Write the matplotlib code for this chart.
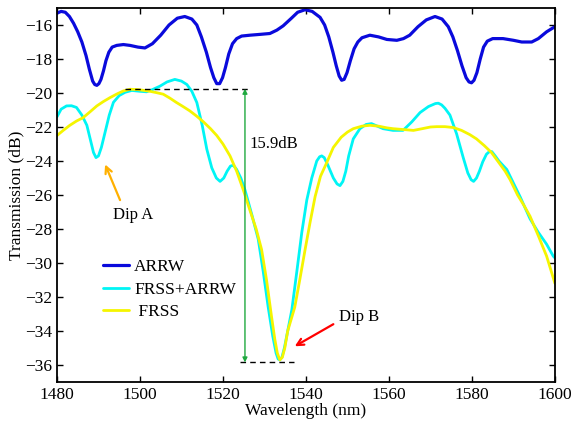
import numpy as np
import matplotlib
matplotlib.use('Agg')
import matplotlib.pyplot as plt


# Data (wavelength in nm, transmission in dB)
# ------------------------------------------------------------------
arrw_wl = [1480, 1481, 1482, 1483, 1484, 1485, 1486, 1487, 1487.8, 1488.6,
           1489.1, 1489.6, 1490.1, 1490.6, 1491.2, 1491.8, 1492.5, 1493.3,
           1494.4, 1496, 1497.6, 1499.5, 1501.2, 1503, 1505, 1507, 1509, 1510.8,
           1512.5, 1513.7, 1514.8, 1516, 1517, 1517.8, 1518.5, 1519.2, 1519.9,
           1520.6, 1521.4, 1522.3, 1523.3, 1524.5, 1526.5,
           1529, 1531.3, 1533, 1534.5, 1536.5, 1538, 1539.8, 1541.5, 1543.4, 1544.5,
           1545.5, 1546.5, 1547.3, 1548, 1548.6, 1549.2, 1549.9, 1550.7, 1551.6,
           1552.5, 1553.5, 1555.4, 1557.5, 1559.5,
           1561.9, 1563.5, 1565, 1567, 1569, 1571.1, 1572.8, 1574.3, 1575.4, 1576.5,
           1577.6, 1578.6, 1579.3, 1579.9, 1580.5, 1581.2, 1582, 1582.8, 1583.7,
           1585, 1587.5, 1590, 1592, 1594.4, 1596, 1598, 1600]
arrw_db = [-15.3, -15.2, -15.25, -15.5, -15.9, -16.4, -17.0, -17.8, -18.6, -19.3,
           -19.5, -19.55, -19.45, -19.2, -18.7, -18.1, -17.6, -17.3,
           -17.2, -17.15, -17.2, -17.3, -17.35, -17.1, -16.6, -16.0, -15.6, -15.5,
           -15.65, -16.0, -16.7, -17.6, -18.5, -19.1, -19.45, -19.45, -19.1,
           -18.5, -17.7, -17.1, -16.8, -16.65, -16.6,
           -16.55, -16.5, -16.3, -16.05, -15.6, -15.25, -15.1, -15.2, -15.55, -16.0,
           -16.7, -17.6, -18.4, -19.0, -19.25, -19.2, -18.8, -18.1, -17.4,
           -17.0, -16.75, -16.6, -16.7, -16.85,
           -16.9, -16.8, -16.6, -16.1, -15.7, -15.5, -15.65, -16.1, -16.7, -17.5,
           -18.4, -19.1, -19.35, -19.4, -19.25, -18.8, -18.0, -17.3, -16.95,
           -16.8, -16.8, -16.9, -17.0, -17.0, -16.8, -16.4, -16.1]

both_wl = [1480, 1481, 1482.3, 1483.5, 1484.7, 1486, 1487.2, 1488.1, 1488.8, 1489.4,
           1490, 1490.7, 1491.6, 1492.6, 1493.6, 1495, 1496.4, 1498, 1500, 1501.6,
           1503, 1504.8, 1506.5, 1508.4, 1510, 1511.3, 1512.5, 1513.7, 1515, 1516.1,
           1517.3, 1518.4, 1519.3, 1520.2, 1521, 1521.8, 1522.5, 1523.3, 1524.3,
           1525.3, 1527, 1528.5, 1529.7, 1530.9, 1532, 1532.8, 1533.3, 1533.7,
           1534.2, 1534.8, 1535.6, 1536.6, 1537.8, 1539, 1540.2, 1541.4,
           1542.6, 1543.3, 1543.8, 1544.4, 1545.2, 1546.6, 1547.5, 1548.2, 1548.9,
           1549.6, 1550.3, 1551.4, 1553, 1554.5,
           1555.8, 1557.2, 1558.6, 1561, 1563.4, 1565.5, 1567.5, 1569.5, 1571.2,
           1571.9, 1572.7, 1573.5, 1574.7, 1576.3, 1577.9, 1579, 1579.8, 1580.4,
           1581.1, 1581.8, 1582.6, 1583.5, 1584.2, 1584.8, 1585.6, 1586.5,
           1588.4, 1590, 1591.6, 1594, 1596, 1598, 1599.6, 1600]
both_db = [-21.4, -20.95, -20.76, -20.75, -20.85, -21.3, -21.9, -22.8, -23.5, -23.8,
           -23.7, -23.2, -22.3, -21.3, -20.55, -20.15, -19.96, -19.85, -19.9, -19.93,
           -19.8, -19.6, -19.35, -19.2, -19.3, -19.5, -19.9, -20.56, -21.9, -23.3,
           -24.4, -25.0, -25.2, -25.0, -24.6, -24.3, -24.25, -24.5, -25.0,
           -25.7, -27.2, -28.6, -30.5, -32.6, -34.3, -35.3, -35.65, -35.7,
           -35.55, -35.0, -34.0, -32.75, -30.5, -28.2, -26.3, -25.0,
           -24.0, -23.75, -23.7, -23.8, -24.2, -25.0, -25.35, -25.45, -25.2,
           -24.6, -23.7, -22.7, -22.1, -21.85,
           -21.8, -21.95, -22.1, -22.2, -22.2, -21.7, -21.15, -20.8, -20.62,
           -20.6, -20.7, -20.9, -21.3, -22.4, -23.8, -24.7, -25.1, -25.2,
           -25.0, -24.6, -24.05, -23.6, -23.45, -23.45, -23.7, -24.0,
           -24.5, -25.3, -26.1, -27.4, -28.2, -28.9, -29.6, -29.7]

frss_wl = [1480, 1481.5, 1483.1, 1484.7, 1486.3, 1488, 1489.6, 1491.2, 1492.8, 1494.5,
           1496, 1497.6, 1499.5, 1501, 1502.4, 1504, 1505.6, 1507.2, 1508.8, 1510.4,
           1512, 1513.6, 1515.3, 1517, 1518.5, 1520, 1521.7, 1523.3, 1524.9, 1526.5,
           1528, 1529.3, 1530.5, 1531.7, 1532.5, 1533.1, 1533.7, 1534.3, 1534.9,
           1535.6, 1537.3, 1538.5,
           1539.8, 1541, 1542.2, 1543.5, 1545, 1546.6, 1548.5, 1550, 1551.4, 1553.5,
           1555.4, 1557.5, 1559.5, 1561, 1563.5, 1565.9, 1568, 1570, 1571.5, 1573.5,
           1575.5, 1577.5, 1579.5, 1581.1, 1583, 1584.7, 1586.5, 1588, 1589.2, 1591,
           1592.5, 1594, 1596, 1598, 1599, 1600]
frss_db = [-22.5, -22.2, -21.9, -21.65, -21.45, -21.1, -20.76, -20.5, -20.27, -20.05,
           -19.88, -19.78, -19.8, -19.85, -19.9, -19.98, -20.07, -20.3, -20.56, -20.8,
           -21.05, -21.35, -21.7, -22.1, -22.5, -23.0, -23.7, -24.6, -25.7, -26.9,
           -28.0, -29.2, -31.0, -33.15, -34.5, -35.3, -35.7, -35.55, -35.0,
           -34.0, -32.6, -31.0,
           -29.2, -27.6, -26.1, -24.9, -24.1, -23.2, -22.6, -22.3, -22.1, -21.95,
           -21.9, -21.95, -22.05, -22.1, -22.15, -22.2, -22.1, -22.0, -21.98, -21.98,
           -22.03, -22.2, -22.45, -22.7, -23.1, -23.5, -24.1, -24.6, -25.1, -26.0,
           -26.6, -27.25, -28.4, -29.6, -30.4, -31.2]

labels = ['ARRW', 'FRSS+ARRW', ' FRSS']

top_level = -19.75       # upper reference level of the 15.9 dB marker
bottom_level = -35.85    # lower reference level


# Figure setup
# ------------
plt.rcParams['font.family'] = ['Liberation Serif', 'DejaVu Serif']
plt.rcParams['font.size'] = 12.5

fig = plt.figure(figsize=(5.75, 4.28), dpi=100)
ax = fig.add_axes([0.0991, 0.1075, 0.866, 0.8738])

ax.set_xlim(1480, 1600)
ax.set_ylim(-37, -15)
ax.set_xticks(np.arange(1480, 1601, 20))
ax.set_yticks(np.arange(-36, -15, 2))
ax.tick_params(direction='in', top=True, right=True, length=4, width=1)
for s in ax.spines.values():
    s.set_linewidth(1.3)

ax.set_xlabel('Wavelength (nm)', labelpad=0)
ax.set_ylabel('Transmission (dB)', labelpad=0)


# Plot data
# ---------
line_kw = dict(solid_joinstyle='round', solid_capstyle='round')
ax.plot(arrw_wl, arrw_db, color='#0a0adc', lw=2.3, label=labels[0], **line_kw)
ax.plot(both_wl, both_db, color='#00f5f5', lw=2.0, label=labels[1], **line_kw)
ax.plot(frss_wl, frss_db, color='#f5f500', lw=2.0, label=labels[2], **line_kw)


# Annotations
# -----------
ax.plot([1496.4, 1526.2], [top_level, top_level], color='black', ls='--', lw=1.0, dashes=(4, 3))
ax.plot([1524.1, 1537.0], [bottom_level, bottom_level], color='black', ls='--', lw=1.0, dashes=(4, 3))
ax.annotate('', xy=(1525.3, top_level), xytext=(1525.3, bottom_level),
            arrowprops=dict(arrowstyle='<|-|>', color='#1fa83f', lw=1.0,
                            mutation_scale=7, shrinkA=0, shrinkB=0))
ax.text(1526.3, -23.0, '15.9dB', fontsize=12, va='center', ha='left')

ax.annotate('', xy=(1491.6, -24.2), xytext=(1495.2, -26.3),
            arrowprops=dict(arrowstyle='->', color='#ffb000', lw=1.6,
                            mutation_scale=12, shrinkA=0, shrinkB=0))
ax.text(1498.3, -27.2, 'Dip A', fontsize=12, va='center', ha='center')

ax.annotate('', xy=(1537.3, -34.9), xytext=(1546.6, -33.6),
            arrowprops=dict(arrowstyle='->', color='red', lw=1.6,
                            mutation_scale=12, shrinkA=0, shrinkB=0))
ax.text(1548.0, -33.15, 'Dip B', fontsize=12, va='center', ha='left')


# Render
# ------
ax.legend(loc='center left', bbox_to_anchor=(0.092, 0.247), frameon=False,
          borderpad=0, borderaxespad=0, handlelength=1.5, handletextpad=0.3,
          labelspacing=0.35, fontsize=12.5)

fig.savefig('out.png', dpi=100)
